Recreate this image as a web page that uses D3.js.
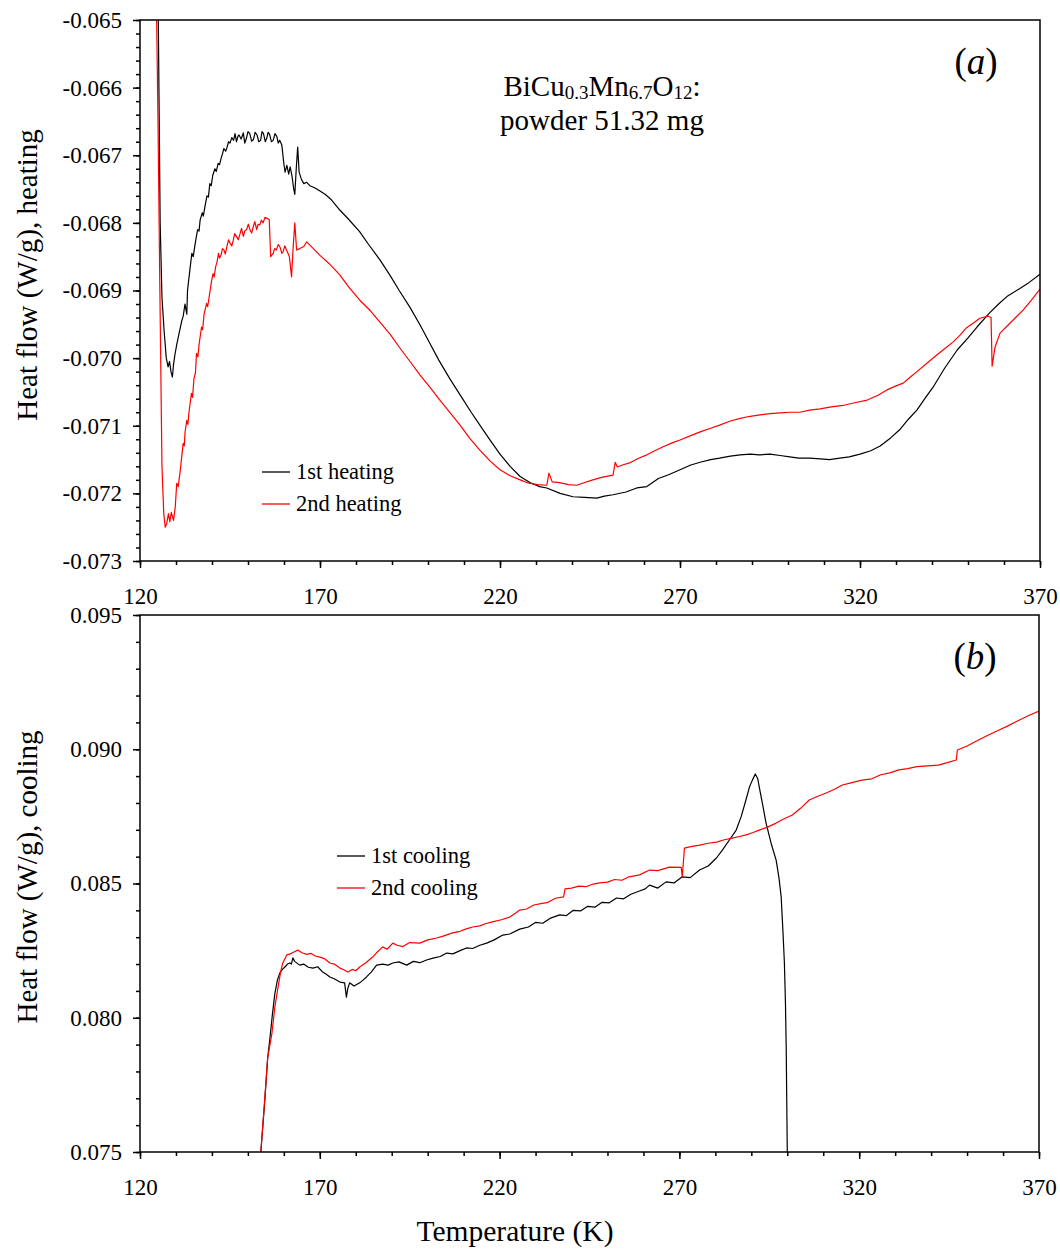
<!DOCTYPE html>
<html>
<head>
<meta charset="utf-8">
<script src="https://d3js.org/d3.v7.min.js"></script>
<style>
  body { margin: 0; background: #fff; }
  svg text { font-family: "Liberation Serif", "Times New Roman", serif; fill: #000; }
</style>
</head>
<body>
<div id="chart"></div>
<script>
// x ticks shared by both panels
var tempTicks = [120, 170, 220, 270, 320, 370];
var heatTicks = [-0.065, -0.066, -0.067, -0.068, -0.069, -0.070, -0.071, -0.072, -0.073];
var coolTicks = [0.095, 0.090, 0.085, 0.080, 0.075];

// (a) heating runs: [T (K), heat flow (W/g)]
var heating1 = [
  [125.0, -0.0645], [125.6, -0.0680], [126.1, -0.0691], [126.7, -0.0696], [127.3, -0.0700],
  [127.8, -0.07013], [128.2, -0.07005], [128.6, -0.0702], [129.0, -0.07028], [129.3, -0.0701],
  [129.7, -0.06995], [130.2, -0.0698], [130.8, -0.06965], [131.6, -0.06945], [132.0, -0.06938],
  [132.5, -0.0692], [133.0, -0.06935], [133.2, -0.0690], [133.8, -0.06872], [134.4, -0.06845],
  [134.8, -0.06850], [135.2, -0.06835], [135.6, -0.06822], [136.0, -0.0681], [136.4, -0.06812],
  [136.7, -0.06796], [137.3, -0.06785], [137.6, -0.06790], [138.0, -0.06777], [138.6, -0.0676],
  [139.0, -0.06762], [139.4, -0.06742], [139.8, -0.06745], [140.2, -0.0673], [140.8, -0.0672],
  [141.2, -0.06724], [141.7, -0.06712], [142.1, -0.06714], [142.5, -0.06705], [142.9, -0.06698],
  [143.3, -0.0669], [143.8, -0.06694], [144.2, -0.06688], [144.6, -0.06680], [145.0, -0.06682],
  [145.5, -0.06674], [146.0, -0.06678], [146.4, -0.06668], [146.8, -0.0668], [147.2, -0.06672],
  [147.5, -0.0667], [148.1, -0.06676], [148.7, -0.06667], [149.1, -0.06682], [149.5, -0.06676],
  [150.0, -0.06665], [150.5, -0.06668], [151.0, -0.06679], [151.5, -0.06677], [152.0, -0.06666],
  [152.5, -0.0667], [153.0, -0.0668], [153.5, -0.06678], [153.9, -0.06665], [154.3, -0.06668],
  [154.8, -0.0668], [155.2, -0.06675], [155.6, -0.06666], [156.0, -0.06669], [156.5, -0.0668],
  [157.0, -0.06678], [157.5, -0.06668], [158.0, -0.06672], [158.4, -0.06682], [158.8, -0.06678],
  [159.4, -0.06685], [159.9, -0.0671], [160.3, -0.06725], [160.8, -0.06715], [161.3, -0.06728],
  [161.7, -0.06717], [162.2, -0.0673], [162.7, -0.0675], [163.0, -0.06758], [163.4, -0.0672],
  [163.8, -0.06688], [164.2, -0.06725], [164.8, -0.06735], [165.5, -0.06742], [166.3, -0.0674],
  [167.2, -0.06745], [168.5, -0.06748], [170.0, -0.06753], [171.5, -0.06758], [173.0, -0.06765],
  [175.5, -0.06781], [178.0, -0.06795], [181.0, -0.06813], [183.5, -0.06832], [186.7, -0.06855],
  [189.5, -0.06878], [192.0, -0.0690], [195.0, -0.06925], [197.8, -0.06951], [200.5, -0.06978],
  [203.0, -0.07003], [206.0, -0.0703], [209.0, -0.07055], [212.0, -0.0708], [214.4, -0.07099],
  [217.2, -0.07121], [220.0, -0.07142], [222.8, -0.0716], [225.6, -0.07175], [228.3, -0.07184],
  [231.0, -0.0719], [233.0, -0.07192], [236.7, -0.072], [240.3, -0.07205], [243.5, -0.07206],
  [246.9, -0.07207], [249.0, -0.07204], [251.4, -0.07202], [255.0, -0.07198], [258.0, -0.07192],
  [260.8, -0.0719], [264.0, -0.07178], [267.0, -0.07172], [270.0, -0.07165], [273.0, -0.07158],
  [275.6, -0.07154], [278.5, -0.0715], [281.0, -0.07148], [284.0, -0.07145], [286.7, -0.07143],
  [289.5, -0.07142], [292.0, -0.07143], [295.0, -0.07142], [297.8, -0.07144], [300.5, -0.07146],
  [303.0, -0.07148], [306.0, -0.07148], [309.0, -0.07149], [311.5, -0.0715], [314.4, -0.07148],
  [317.0, -0.07146], [320.0, -0.07142], [323.0, -0.07137], [325.6, -0.0713], [328.5, -0.07118],
  [331.0, -0.07106], [333.5, -0.0709], [335.8, -0.07077], [338.0, -0.0706], [340.3, -0.07043],
  [343.5, -0.07015], [347.0, -0.06988], [350.0, -0.0697], [352.5, -0.06954], [356.0, -0.06933],
  [358.5, -0.0692], [360.8, -0.06909], [364.4, -0.06897], [367.0, -0.06888], [370.0, -0.06876]
];

var heating2 = [
  [124.5, -0.0645], [125.0, -0.0665], [125.5, -0.0689], [126.1, -0.0716], [126.6, -0.0723],
  [127.0, -0.0725], [127.4, -0.07245], [127.9, -0.0723], [128.3, -0.07242], [128.7, -0.07228],
  [129.3, -0.0724], [129.8, -0.0722], [130.2, -0.07185], [130.6, -0.0719], [131.1, -0.0717],
  [131.5, -0.0715], [132.0, -0.07126], [132.3, -0.0713], [132.5, -0.0711], [133.0, -0.07092],
  [133.3, -0.07098], [133.6, -0.0708], [134.3, -0.07052], [134.6, -0.07058], [135.0, -0.0703],
  [135.4, -0.07022], [135.7, -0.06993], [136.1, -0.06998], [136.4, -0.0698], [137.1, -0.06954],
  [137.4, -0.06958], [137.8, -0.06935], [138.5, -0.06919], [138.8, -0.06924], [139.2, -0.0691],
  [139.9, -0.06885], [140.3, -0.06875], [140.6, -0.06880], [141.0, -0.06865], [141.4, -0.06858],
  [141.8, -0.06845], [142.1, -0.06852], [142.5, -0.06848], [142.9, -0.06838], [143.3, -0.0684],
  [143.7, -0.06846], [144.1, -0.06836], [144.6, -0.06825], [145.0, -0.0683], [145.5, -0.06834],
  [145.9, -0.06826], [146.3, -0.06816], [146.8, -0.0682], [147.3, -0.06825], [147.8, -0.06816],
  [148.2, -0.06808], [148.7, -0.0682], [149.1, -0.06812], [149.6, -0.0681], [150.1, -0.06802],
  [150.6, -0.06811], [151.0, -0.06815], [151.5, -0.06805], [151.9, -0.06798], [152.4, -0.0681],
  [152.8, -0.06802], [153.3, -0.06803], [153.7, -0.06796], [154.2, -0.068], [154.7, -0.06792],
  [155.2, -0.06793], [155.9, -0.06795], [156.3, -0.0685], [157.0, -0.06845], [157.4, -0.06838],
  [157.9, -0.0684], [158.4, -0.06832], [158.9, -0.06836], [159.4, -0.06845], [159.8, -0.06842],
  [160.2, -0.06834], [160.7, -0.0684], [161.1, -0.06845], [161.5, -0.0685], [162.1, -0.0688],
  [162.5, -0.0684], [163.0, -0.068], [163.5, -0.0684], [164.4, -0.06838], [165.5, -0.06835],
  [166.3, -0.06828], [167.2, -0.06833], [168.5, -0.0684], [170.0, -0.06848], [172.5, -0.0686],
  [175.5, -0.06877], [178.0, -0.06895], [181.0, -0.06914], [184.0, -0.0693], [186.7, -0.06947],
  [189.5, -0.06965], [192.2, -0.06985], [195.0, -0.07005], [197.8, -0.07025], [200.5, -0.07043],
  [203.3, -0.07062], [206.0, -0.0708], [208.9, -0.07099], [211.5, -0.07118], [214.4, -0.07136],
  [217.2, -0.07152], [220.0, -0.07165], [222.8, -0.07174], [225.6, -0.0718], [228.0, -0.07185],
  [230.5, -0.07187], [233.0, -0.07188], [233.6, -0.0717], [234.5, -0.07183], [236.5, -0.07184],
  [239.0, -0.07187], [241.3, -0.07188], [243.5, -0.07184], [245.8, -0.0718], [248.5, -0.07176],
  [251.4, -0.07173], [252.0, -0.07154], [252.6, -0.07161], [254.0, -0.07158], [256.0, -0.07155],
  [258.5, -0.07148], [260.8, -0.07143], [263.0, -0.07137], [265.3, -0.07131], [268.0, -0.07125],
  [270.0, -0.07121], [272.8, -0.07115], [275.6, -0.07109], [278.3, -0.07104], [281.0, -0.07099],
  [284.0, -0.07093], [286.7, -0.07089], [289.5, -0.07086], [292.2, -0.07084], [295.0, -0.07082],
  [297.8, -0.07081], [300.5, -0.0708], [303.3, -0.0708], [306.0, -0.07077], [308.9, -0.07075],
  [312.0, -0.07072], [315.3, -0.0707], [318.5, -0.07066], [322.0, -0.07062], [325.0, -0.07055],
  [327.5, -0.07047], [330.0, -0.07041], [332.0, -0.07037], [334.0, -0.07028], [335.8, -0.0702],
  [338.5, -0.07008], [341.4, -0.06995], [343.5, -0.06986], [345.9, -0.06976], [347.8, -0.06966],
  [349.6, -0.06955], [351.5, -0.06948], [353.3, -0.06941], [355.6, -0.06938], [356.4, -0.0694],
  [356.7, -0.07012], [357.5, -0.06984], [358.9, -0.06963], [361.7, -0.06948], [365.3, -0.06929],
  [367.5, -0.06915], [370.0, -0.06898]
];

// (b) cooling runs
var cooling1 = [
  [153.6, 0.0750], [154.7, 0.0769], [155.5, 0.0785], [156.1, 0.0792], [156.8, 0.0801],
  [157.5, 0.0809], [158.2, 0.0814], [158.9, 0.08167], [159.6, 0.0818], [160.3, 0.08189],
  [161.0, 0.0820], [161.7, 0.08204], [162.1, 0.0820], [162.5, 0.08223], [163.0, 0.0821],
  [164.4, 0.08196], [165.5, 0.0820], [166.8, 0.08188], [168.1, 0.08185], [169.4, 0.0819],
  [170.8, 0.0817], [171.8, 0.08162], [172.8, 0.08152], [174.0, 0.08145], [175.6, 0.08133],
  [176.9, 0.0813], [177.4, 0.08077], [177.8, 0.0811], [178.3, 0.0813], [179.5, 0.08118],
  [181.1, 0.0813], [182.0, 0.0814], [183.0, 0.08152], [184.3, 0.0817], [185.8, 0.08196],
  [187.5, 0.0820], [189.0, 0.08196], [190.3, 0.08204], [192.0, 0.08208], [194.2, 0.08196],
  [196.0, 0.0821], [197.8, 0.08205], [199.7, 0.08215], [201.5, 0.08222], [203.5, 0.08228],
  [205.3, 0.08241], [207.0, 0.08238], [209.0, 0.0825], [210.8, 0.0826], [212.5, 0.08258],
  [214.5, 0.0827], [216.4, 0.08278], [218.5, 0.0829], [220.9, 0.08308], [222.8, 0.08312],
  [225.6, 0.0833], [228.0, 0.08338], [230.0, 0.08355], [232.0, 0.08352], [234.0, 0.0837],
  [236.7, 0.08383], [238.5, 0.0838], [240.5, 0.0840], [242.5, 0.08398], [244.5, 0.08415],
  [246.5, 0.08412], [248.5, 0.0843], [250.5, 0.08428], [252.5, 0.08446], [254.5, 0.08443],
  [256.5, 0.0846], [258.9, 0.08472], [260.5, 0.0848], [261.7, 0.08494], [264.0, 0.08483],
  [266.3, 0.08506], [268.5, 0.08502], [270.8, 0.08525], [273.0, 0.08522], [275.6, 0.0855],
  [278.0, 0.08565], [280.3, 0.08595], [282.0, 0.08625], [283.9, 0.08662], [285.8, 0.08699],
  [287.2, 0.0875], [288.5, 0.08811], [289.5, 0.0886], [290.3, 0.08885], [291.1, 0.08908],
  [291.8, 0.0889], [292.2, 0.0886], [293.2, 0.0879], [294.1, 0.08725], [295.5, 0.0865],
  [296.9, 0.08587], [297.7, 0.0852], [298.3, 0.0845], [298.8, 0.0832], [299.2, 0.08204],
  [299.5, 0.0805], [299.7, 0.07891], [300.0, 0.0750]
];

var cooling2 = [
  [153.6, 0.0750], [154.7, 0.0770], [155.5, 0.0785], [156.7, 0.07943], [157.5, 0.0804],
  [158.4, 0.08115], [159.1, 0.0817], [159.7, 0.08204], [160.3, 0.0822], [160.8, 0.08234],
  [161.8, 0.08238], [162.8, 0.08245], [163.9, 0.08252], [165.0, 0.08242], [166.4, 0.08236],
  [167.5, 0.0824], [168.7, 0.0823], [170.0, 0.08226], [171.3, 0.0822], [172.8, 0.08204],
  [174.0, 0.0820], [175.6, 0.08185], [176.8, 0.08178], [177.8, 0.0817], [179.0, 0.0818],
  [180.0, 0.08175], [181.1, 0.08189], [182.8, 0.08205], [184.7, 0.08226], [186.0, 0.08245],
  [187.5, 0.08264], [188.7, 0.08255], [190.3, 0.08278], [191.5, 0.0827], [193.1, 0.08265],
  [195.0, 0.0828], [197.8, 0.08278], [200.0, 0.0829], [202.5, 0.08297], [204.5, 0.08305],
  [206.9, 0.08316], [209.0, 0.08322], [210.5, 0.0833], [212.5, 0.08338], [214.5, 0.08342],
  [216.0, 0.0835], [218.0, 0.08357], [220.5, 0.08365], [222.8, 0.08375], [224.5, 0.0839],
  [225.6, 0.08401], [227.5, 0.08405], [229.5, 0.0842], [231.5, 0.08425], [233.5, 0.0843],
  [235.5, 0.08445], [237.8, 0.0845], [238.2, 0.0848], [240.0, 0.08483], [242.0, 0.0849],
  [244.0, 0.08488], [246.0, 0.08498], [247.8, 0.08502], [250.0, 0.08505], [252.0, 0.08515],
  [254.0, 0.08512], [256.0, 0.08525], [258.9, 0.08532], [261.7, 0.0855], [264.0, 0.08548],
  [267.2, 0.08561], [270.5, 0.0856], [270.8, 0.08525], [271.4, 0.08632], [273.5, 0.08638],
  [275.6, 0.08643], [278.0, 0.0865], [280.3, 0.08654], [282.5, 0.08663], [284.7, 0.08669],
  [286.7, 0.08675], [288.6, 0.08681], [290.5, 0.0869], [292.2, 0.08699], [294.5, 0.0871],
  [296.9, 0.08725], [299.0, 0.0874], [301.4, 0.08755], [303.7, 0.0878], [306.1, 0.08811],
  [308.5, 0.08825], [310.8, 0.08837], [313.0, 0.0885], [315.3, 0.08867], [318.0, 0.08876],
  [320.8, 0.08885], [323.5, 0.0889], [326.0, 0.08905], [328.5, 0.08912], [331.0, 0.08923],
  [333.5, 0.08928], [336.0, 0.08935], [339.0, 0.08938], [342.0, 0.08941], [344.5, 0.0895],
  [347.0, 0.0896], [347.3, 0.08997], [350.0, 0.09012], [352.5, 0.0903], [355.5, 0.0905],
  [358.9, 0.09072], [361.5, 0.09088], [364.0, 0.09105], [367.0, 0.09125], [370.0, 0.09142]
];

var width = 1060, height = 1250;

var svg = d3.select('#chart').append('svg')
    .attr('width', width)
    .attr('height', height);

function drawPanel(p) {
    var x = d3.scaleLinear().domain([120, 370]).range([p.left, p.right]);
    var y = d3.scaleLinear().domain(p.domain).range([p.bottom, p.top]);
    var g = svg.append('g');

    g.append('clipPath').attr('id', p.id + '-clip')
        .append('rect')
        .attr('x', p.left).attr('y', p.top)
        .attr('width', p.right - p.left).attr('height', p.bottom - p.top);

    var line = d3.line()
        .x(function(d) { return x(d[0]); })
        .y(function(d) { return y(d[1]); });

    var lines = g.append('g').attr('clip-path', 'url(#' + p.id + '-clip)');
    p.series.forEach(function(s) {
        lines.append('path')
            .datum(s.data)
            .attr('d', line)
            .attr('fill', 'none')
            .attr('stroke', s.color)
            .attr('stroke-width', 1.2)
            .attr('stroke-linejoin', 'round');
    });

    // frame
    g.append('rect')
        .attr('x', p.left).attr('y', p.top)
        .attr('width', p.right - p.left).attr('height', p.bottom - p.top)
        .attr('fill', 'none').attr('stroke', '#000').attr('stroke-width', 1.5);

    // x axis: major + minor ticks
    var xMinor = d3.range(120, 371, 10);
    g.append('g')
        .attr('transform', 'translate(0,' + p.bottom + ')')
        .call(d3.axisBottom(x).tickValues(xMinor).tickSize(4).tickFormat(''))
        .call(function(a) { a.select('.domain').remove(); });
    g.append('g')
        .attr('transform', 'translate(0,' + p.bottom + ')')
        .call(d3.axisBottom(x).tickValues(tempTicks).tickSize(7).tickPadding(20).tickFormat(d3.format('d')))
        .call(function(a) {
            a.select('.domain').remove();
            a.selectAll('text').attr('font-size', 23).attr('font-family', '"Liberation Serif", serif');
        });

    // y axis
    g.append('g')
        .attr('transform', 'translate(' + p.left + ',0)')
        .call(d3.axisLeft(y).tickValues(p.minor).tickSize(4).tickFormat(''))
        .call(function(a) { a.select('.domain').remove(); });
    g.append('g')
        .attr('transform', 'translate(' + p.left + ',0)')
        .call(d3.axisLeft(y).tickValues(p.ticks).tickSize(7).tickPadding(11).tickFormat(p.fmt))
        .call(function(a) {
            a.select('.domain').remove();
            a.selectAll('text').attr('font-size', 23).attr('font-family', '"Liberation Serif", serif');
        });

    g.selectAll('.tick line').attr('stroke', '#000').attr('stroke-width', 1.5);

    // y label
    g.append('text')
        .attr('transform', 'translate(' + p.labelX + ',' + p.labelY + ') rotate(-90)')
        .attr('text-anchor', 'middle')
        .attr('font-size', 29)
        .text(p.label);

    // panel tag
    var tag = g.append('text')
        .attr('x', p.right - 64).attr('y', p.tagY)
        .attr('text-anchor', 'middle')
        .attr('font-size', 37);
    tag.append('tspan').text('(');
    tag.append('tspan').attr('font-style', 'italic').text(p.tag);
    tag.append('tspan').text(')');

    // legend
    p.series.forEach(function(s, i) {
        var ly = p.legendY + i * 32;
        g.append('line')
            .attr('x1', p.legendX).attr('x2', p.legendX + 28)
            .attr('y1', ly).attr('y2', ly)
            .attr('stroke', s.color).attr('stroke-width', 1.3);
        g.append('text')
            .attr('x', p.legendX + 34).attr('y', ly + 7)
            .attr('font-size', 22.5)
            .text(s.name);
    });

    return { x: x, y: y };
}

var fmtNeg = function(d) { return d3.format('.3f')(d).replace('−', '-'); };

drawPanel({
    id: 'a', left: 140, right: 1040, top: 20, bottom: 561,
    domain: [-0.073, -0.065], ticks: heatTicks,
    minor: d3.range(0, 41).map(function(i) { return -0.073 + i * 0.0002; }),
    fmt: fmtNeg,
    label: 'Heat flow (W/g), heating', labelX: 37, labelY: 275,
    tag: 'a', tagY: 74,
    legendX: 262, legendY: 472,
    series: [
        { name: '1st heating', color: '#000', data: heating1 },
        { name: '2nd heating', color: '#ff0000', data: heating2 }
    ]
});

drawPanel({
    id: 'b', left: 140, right: 1039, top: 615, bottom: 1152,
    domain: [0.075, 0.095], ticks: coolTicks,
    minor: d3.range(0, 21).map(function(i) { return 0.075 + i * 0.001; }),
    fmt: d3.format('.3f'),
    label: 'Heat flow (W/g), cooling', labelX: 37, labelY: 877,
    tag: 'b', tagY: 669,
    legendX: 337, legendY: 856,
    series: [
        { name: '1st cooling', color: '#000', data: cooling1 },
        { name: '2nd cooling', color: '#ff0000', data: cooling2 }
    ]
});

// sample annotation
var note = svg.append('text')
    .attr('x', 602).attr('y', 96)
    .attr('text-anchor', 'middle')
    .attr('font-size', 29);
note.append('tspan').text('BiCu');
note.append('tspan').attr('font-size', 19).attr('dy', 3).text('0.3');
note.append('tspan').attr('dy', -3).text('Mn');
note.append('tspan').attr('font-size', 19).attr('dy', 3).text('6.7');
note.append('tspan').attr('dy', -3).text('O');
note.append('tspan').attr('font-size', 19).attr('dy', 3).text('12');
note.append('tspan').attr('dy', -3).text(':');

svg.append('text')
    .attr('x', 602).attr('y', 130)
    .attr('text-anchor', 'middle')
    .attr('font-size', 29)
    .text('powder 51.32 mg');

svg.append('text')
    .attr('x', 515).attr('y', 1241)
    .attr('text-anchor', 'middle')
    .attr('font-size', 29.5)
    .text('Temperature (K)');
</script>
</body>
</html>
